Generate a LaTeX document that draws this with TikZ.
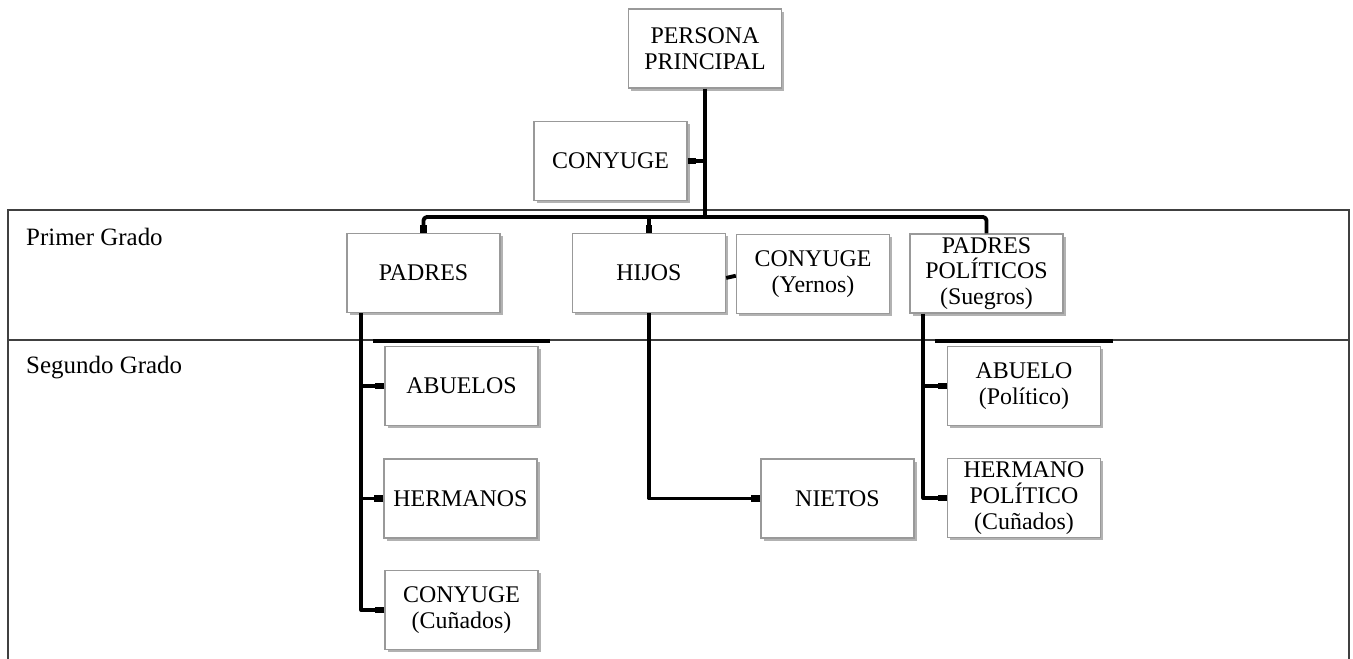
\documentclass[tikz,border=0pt]{standalone}
\usepackage{fontspec}
\setmainfont{Liberation Serif}
\usetikzlibrary{shadows, calc}
\colorlet{framecolor}{black!75}
\colorlet{boxcolor}{black!40}
\tikzset{
    person box/.style = {rectangle, draw=boxcolor, line width=0.8pt, fill=white, align=center,
        minimum width=3.06cm, minimum height=1.58cm, inner sep=1pt,
        font=\fontsize{13.6}{14.6}\selectfont,
        drop shadow={shadow xshift=1.6pt, shadow yshift=-1.6pt, fill=black, opacity=0.3}},
    link line/.style = {line width=2.2pt, line join=round},
    link end/.style = {line width=3.8pt},
    frame line/.style = {draw=framecolor, line width=1.1pt},
    grade text/.style = {anchor=west, font=\fontsize{14.2}{16}\selectfont}
}

\begin{document}
\begin{tikzpicture}[x=0.02cm, y=-0.02cm]
        \useasboundingbox (0, 0) rectangle (1353, 659);
        \clip (0, 0) rectangle (1353, 659);
        % draw frame and grade rows
        \draw[frame line] (8, 210) rectangle (1349, 700);
        \draw[frame line] (8, 340) -- (1349, 340);
        \node[grade text] (primer) at (20, 237) {Primer Grado};
        \node[grade text] (segundo) at (20, 368) {Segundo Grado};
        % draw boxes
        \node[person box] (persona) at (705, 48.5) {PERSONA\\PRINCIPAL};
        \node[person box] (conyuge) at (610.5, 161) {CONYUGE};
        \node[person box] (padres) at (423.5, 273) {PADRES};
        \node[person box] (hijos) at (649, 273) {HIJOS};
        \node[person box] (yernos) at (813, 274) {CONYUGE\\(Yernos)};
        \node[person box] (suegros) at (986.5, 273.5) {PADRES\\POLÍTICOS\\(Suegros)};
        \node[person box] (abuelos) at (461.5, 386) {ABUELOS};
        \node[person box] (hermanos) at (460.5, 498.5) {HERMANOS};
        \node[person box] (cunados) at (461.5, 610) {CONYUGE\\(Cuñados)};
        \node[person box] (nietos) at (837.5, 498.5) {NIETOS};
        \node[person box] (abuelopol) at (1024, 386) {ABUELO\\(Político)};
        \node[person box] (hermanopol) at (1024, 498) {HERMANO\\POLÍTICO\\(Cuñados)};
        % draw links of first grade
        \coordinate (barra) at (705, 217);
        \draw[link line] (persona.south) -- (barra);
        \draw[link line] (conyuge.east) -- (conyuge.east -| barra);
        \draw[link line, rounded corners=2pt] (padres.north) |- (barra) -| (suegros.north);
        \draw[link line] (hijos.north) -- (hijos.north |- barra);
        \draw[link line] ([yshift=-2.8pt]hijos.east) -- ([yshift=-1pt]yernos.west);
        % draw links of second grade
        \coordinate (ejepadres) at ($(padres.south west) + (15, 0)$);
        \draw[link line] (ejepadres) |- (cunados.west);
        \draw[link line] (abuelos.west) -- (abuelos.west -| ejepadres);
        \draw[link line] (hermanos.west) -- (hermanos.west -| ejepadres);
        \draw[link line] (hijos.south) |- (nietos.west);
        \coordinate (ejesuegros) at ($(suegros.south west) + (14, 0)$);
        \draw[link line] (ejesuegros) |- (hermanopol.west);
        \draw[link line] (abuelopol.west) -- (abuelopol.west -| ejesuegros);
        % thicker ends at the boxes
        \draw[link end] (conyuge.east) -- ++(8, 0);
        \foreach \kin in {abuelos, hermanos, cunados, nietos, abuelopol, hermanopol}
            \draw[link end] (\kin.west) -- ++(-9, 0);
        \foreach \kin in {padres, hijos}
            \draw[link end] (\kin.north) -- ++(0, -8);
        % draw thick pieces on the grade line
        \draw[link line] (373, 341) -- (550, 341);
        \draw[link line] (935, 341) -- (1113, 341);
    \end{tikzpicture}
\end{document}
